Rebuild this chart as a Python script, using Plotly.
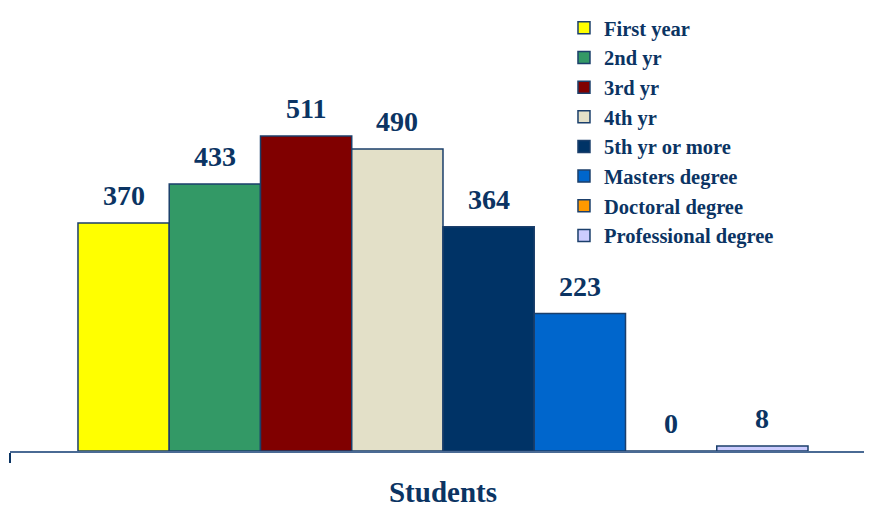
import plotly.graph_objects as go

# dados
category = ["Students"]
series_names = ["First year", "2nd yr", "3rd yr", "4th yr", "5th yr or more",
                "Masters degree", "Doctoral degree", "Professional degree"]
series_values = [370, 433, 511, 490, 364, 223, 0, 8]
series_colors = ["#FFFF00", "#339966", "#800000", "#E3E0C8", "#003366",
                 "#0066CC", "#FF9900", "#CCCCFF"]

NAVY = "#0B3463"
FONT = "Liberation Serif, Times New Roman, serif"
BARGAP = 0.157

fig = go.Figure()
for name, val, color in zip(series_names, series_values, series_colors):
    fig.add_trace(go.Bar(
        x=category, y=[val], name=name,
        marker=dict(color=color, line=dict(color="#1B3F6B", width=1.5)),
    ))

# rótulos de valor acima de cada barra (posição no índice da categoria)
n = len(series_values)
bar_w = (1 - BARGAP) / n
for i, val in enumerate(series_values):
    fig.add_annotation(
        x=(i - (n - 1) / 2) * bar_w, y=val, xref="x", yref="y",
        text=str(val), showarrow=False, yanchor="bottom", yshift=10,
        font=dict(family=FONT, size=28, color=NAVY, weight="bold"),
    )

# a página tem 8px de margem no body, por isso a figura é um pouco menor
fig.update_layout(
    width=864, height=499,
    barmode="group", bargap=BARGAP, bargroupgap=0,
    paper_bgcolor="white", plot_bgcolor="white",
    margin=dict(l=2, r=0, t=0, b=56, autoexpand=False),
    font=dict(family=FONT, color=NAVY),
    legend=dict(
        xref="container", yref="container", x=0.6435, y=1.02,
        xanchor="left", yanchor="top",
        font=dict(family=FONT, size=20.5, color=NAVY, weight="bold"),
        bgcolor="rgba(0,0,0,0)",
    ),
)

fig.update_xaxes(
    range=[-0.5, 0.4954], showline=True, linecolor="#4A6A94", linewidth=1.5,
    tickson="boundaries", ticks="outside", ticklen=10, tickcolor=NAVY, tickwidth=1.5,
    tickfont=dict(family=FONT, size=29, color=NAVY, weight="bold"),
    ticklabelstandoff=14,
    showgrid=False, zeroline=False,
)
fig.update_yaxes(range=[0, 718.7], visible=False, showgrid=False, zeroline=False)

fig.write_html("out.html")
